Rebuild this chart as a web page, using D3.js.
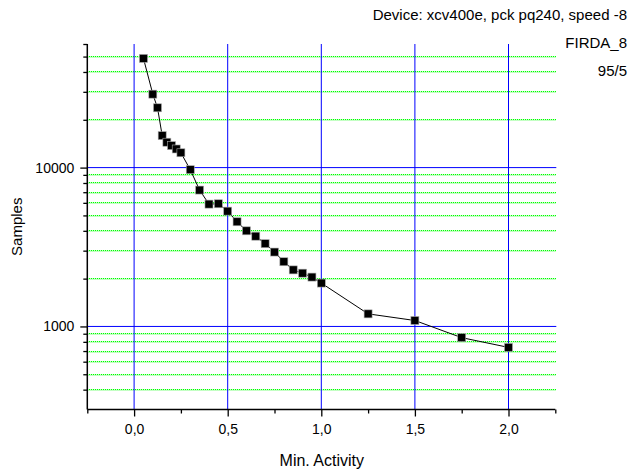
<!DOCTYPE html>
<html>
<head>
<meta charset="utf-8">
<script src="https://cdn.jsdelivr.net/npm/d3@7"></script>
<style>
  html, body { margin: 0; padding: 0; background: #fff; }
  svg { display: block; font-family: "Liberation Sans", Arial, sans-serif; }
</style>
</head>
<body>
<svg id="chart" width="641" height="476"></svg>
<script>
// ---- data ----
const activity = [0.05, 0.1, 0.125, 0.15, 0.175, 0.2, 0.225, 0.25, 0.3, 0.35, 0.4, 0.45, 0.5, 0.55, 0.6, 0.65, 0.7, 0.75, 0.8, 0.85, 0.9, 0.95, 1.0, 1.25, 1.5, 1.75, 2.0];
const samples = [48700, 29000, 23800, 15900, 14450, 13750, 13100, 12400, 9700, 7220, 5890, 5920, 5320, 4560, 4000, 3700, 3320, 2940, 2555, 2270, 2165, 2045, 1875, 1200, 1090, 850, 738];
const xMajorTicks = [0, 0.5, 1.0, 1.5, 2.0];
const xMajorLabels = ["0,0", "0,5", "1,0", "1,5", "2,0"];
const xMinorTicks = [-0.25, 0.25, 0.75, 1.25, 1.75, 2.25];
const yMajorTicks = [1000, 10000];
const yMajorLabels = ["1000", "10000"];
const yMinorTicks = [400, 500, 600, 700, 800, 900, 2000, 3000, 4000, 5000, 6000, 7000, 8000, 9000, 20000, 30000, 40000, 50000, 60000];
const yGridMinor = [400, 500, 600, 700, 800, 900, 2000, 3000, 4000, 5000, 6000, 7000, 8000, 9000, 20000, 30000, 40000, 50000];
const titleLines = ["Device: xcv400e, pck pq240, speed -8", "FIRDA_8", "95/5"];
const xTitle = "Min. Activity";
const yTitle = "Samples";

// ---- layout ----
const L = 87.3, R = 555.3, T = 44, B = 409.5;
const svg = d3.select("#chart");
const x = d3.scaleLinear().domain([-0.25, 2.25]).range([L, R]);
const y = d3.scaleLog().domain([300, 60000]).range([B, T]);
const row = v => Math.round(v - 0.5);

// minor green dotted grid (light fringe + bright dots)
const gridG = svg.append("g").attr("shape-rendering", "crispEdges");
gridG.selectAll("line.base").data(yGridMinor).join("line").attr("class", "base")
  .attr("x1", L).attr("x2", R + 1)
  .attr("y1", d => row(y(d)) + 1).attr("y2", d => row(y(d)) + 1)
  .style("stroke", "rgb(195,255,195)").style("stroke-width", "2px");
gridG.selectAll("line.dot").data(yGridMinor).join("line").attr("class", "dot")
  .attr("x1", L).attr("x2", R + 1)
  .attr("y1", d => row(y(d)) + 0.5).attr("y2", d => row(y(d)) + 0.5)
  .style("stroke", "#00ff00").style("stroke-width", "1px")
  .style("stroke-dasharray", "1,1");

// major blue grid
svg.append("g").selectAll("line").data(yMajorTicks).join("line")
  .attr("x1", L).attr("x2", R + 1)
  .attr("y1", d => y(d)).attr("y2", d => y(d))
  .attr("stroke", "#0000ff").attr("stroke-width", 1);
svg.append("g").selectAll("line").data(xMajorTicks).join("line")
  .attr("x1", d => x(d)).attr("x2", d => x(d))
  .attr("y1", T).attr("y2", B)
  .attr("stroke", "#0000ff").attr("stroke-width", 1);

// axes
const fontSize = 14;
svg.append("g").attr("transform", `translate(0,${B})`)
  .call(d3.axisBottom(x).tickValues(xMajorTicks).tickSize(7).tickPadding(7.5)
    .tickFormat((d, i) => xMajorLabels[i]));
svg.append("g").attr("transform", `translate(0,${B})`)
  .call(d3.axisBottom(x).tickValues(xMinorTicks).tickSize(4).tickFormat(""));
svg.append("g").attr("transform", `translate(${L},0)`)
  .call(d3.axisLeft(y).tickValues(yMajorTicks).tickSize(7).tickPadding(6)
    .tickFormat((d, i) => yMajorLabels[i]));
svg.append("g").attr("transform", `translate(${L},0)`)
  .call(d3.axisLeft(y).tickValues(yMinorTicks).tickSize(4).tickFormat(""));

svg.selectAll(".domain").remove();
svg.selectAll(".tick line").attr("stroke", "#000").attr("stroke-width", 1.3);
svg.selectAll(".tick text").attr("font-size", fontSize).attr("fill", "#000")
  .attr("font-family", "Liberation Sans, Arial, sans-serif");

// axis lines
svg.append("line").attr("x1", L).attr("x2", L).attr("y1", T).attr("y2", B)
  .attr("stroke", "#000").attr("stroke-width", 1.5);
svg.append("line").attr("x1", L).attr("x2", R).attr("y1", B).attr("y2", B)
  .attr("stroke", "#000").attr("stroke-width", 1.5);

// data line
const pts = activity.map((a, i) => [a, samples[i]]);
svg.append("path").datum(pts)
  .attr("fill", "none").attr("stroke", "#000").attr("stroke-width", 1)
  .attr("d", d3.line().x(d => x(d[0])).y(d => y(d[1])));

// markers
const s = 8;
svg.append("g").selectAll("rect").data(pts).join("rect")
  .attr("x", d => x(d[0]) - s / 2).attr("y", d => y(d[1]) - s / 2)
  .attr("width", s).attr("height", s)
  .attr("fill", "#000").attr("stroke", "#aaa").attr("stroke-width", 0.6);

// titles
svg.append("text").attr("x", (L + R) / 2 + 0.5).attr("y", 466)
  .attr("text-anchor", "middle").attr("font-size", 16).text(xTitle);
svg.append("text").attr("transform", `translate(22,${(T + B) / 2}) rotate(-90)`)
  .attr("text-anchor", "middle").attr("font-size", 15).text(yTitle);

svg.append("g").selectAll("text").data(titleLines).join("text")
  .attr("x", 627).attr("y", (d, i) => 19.5 + i * 28)
  .attr("text-anchor", "end").attr("font-size", 15).text(d => d);
</script>
</body>
</html>
